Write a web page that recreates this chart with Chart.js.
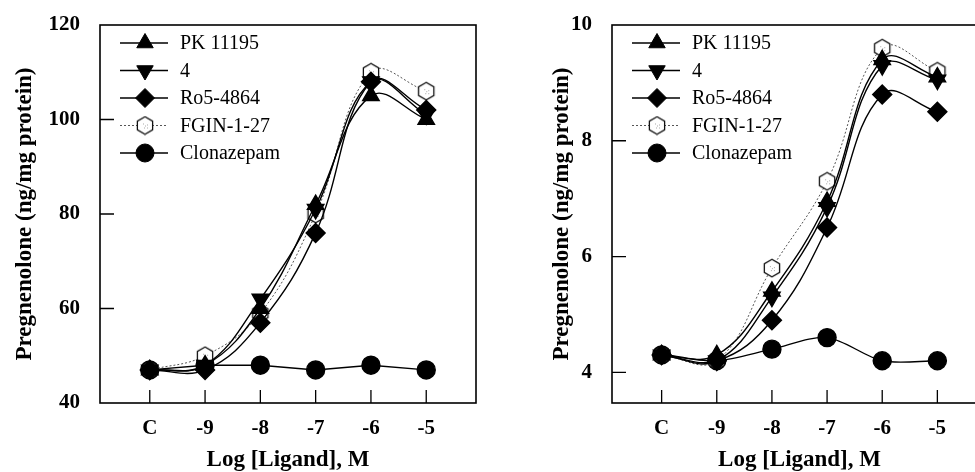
<!DOCTYPE html>
<html>
<head>
<meta charset="utf-8">
<script src="https://cdn.jsdelivr.net/npm/chart.js@4/dist/chart.umd.min.js"></script>
<style>
  html,body{margin:0;padding:0;background:#fff;overflow:hidden;width:975px;height:472px;}
  #wrap{position:relative;width:975px;height:472px;overflow:hidden;}
  canvas{position:absolute;top:0;}
  #cL{left:0;}
  #cR{left:490px;}
</style>
</head>
<body>
<div id="wrap">
  <canvas id="cL" width="490" height="472"></canvas>
  <canvas id="cR" width="510" height="472"></canvas>
</div>
<script>
// ---- data ----
const categories = ['C', '-9', '-8', '-7', '-6', '-5'];
const seriesNames = ['PK 11195', '4', 'Ro5-4864', 'FGIN-1-27', 'Clonazepam'];

const leftPK    = [47, 48, 60, 82, 105, 100];
const left4     = [47, 48, 62, 81, 108, 101];
const leftRo    = [47, 47, 57, 76, 108, 102];
const leftFGIN  = [47, 50, 59, 80, 110, 106];
const leftClon  = [47, 48, 48, 47, 48, 47];

const rightPK   = [4.3, 4.3, 5.4, 6.95, 9.4, 9.1];
const right4    = [4.3, 4.2, 5.3, 6.85, 9.3, 9.05];
const rightRo   = [4.3, 4.2, 4.9, 6.5, 8.8, 8.5];
const rightFGIN = [4.3, 4.2, 5.8, 7.3, 9.6, 9.2];
const rightClon = [4.3, 4.2, 4.4, 4.6, 4.2, 4.2];

const leftYTicks  = [40, 60, 80, 100, 120];
const rightYTicks = [4, 6, 8, 10];

const yTitle = 'Pregnenolone (ng/mg protein)';
const xTitle = 'Log [Ligand], M';

// ---- styling helpers ----
const SERIF = "'Liberation Serif', 'Times New Roman', serif";

function hexagonImage(size) {
  const c = document.createElement('canvas');
  c.width = size; c.height = size;
  const g = c.getContext('2d');
  const r = size / 2 - 1.2, cx = size / 2, cy = size / 2;
  g.beginPath();
  for (let k = 0; k < 6; k++) {
    const a = Math.PI / 2 + k * Math.PI / 3;
    const px = cx + r * Math.cos(a), py = cy - r * Math.sin(a);
    if (k === 0) g.moveTo(px, py); else g.lineTo(px, py);
  }
  g.closePath();
  g.fillStyle = '#fff';
  g.fill();
  g.lineWidth = 1.3;
  g.strokeStyle = '#111';
  g.stroke();
  g.fillStyle = '#aaa';
  [[-2,-2],[2,-1],[-1,2],[2,2],[0,0]].forEach(([dx,dy]) => g.fillRect(cx+dx, cy+dy, 1, 1));
  return c;
}
const hexImg = hexagonImage(20);

function toPts(arr) { return arr.map((v, i) => ({ x: i, y: v })); }

function makeDatasets(pk, four, ro, fgin, clon, clonTension) {
  const base = { borderColor: '#000', borderWidth: 1.4, pointBackgroundColor: '#000', pointBorderColor: '#000', clip: false, tension: 0.4 };
  return [
    Object.assign({}, base, { label: seriesNames[0], data: toPts(pk), pointStyle: 'triangle', pointRadius: 9.5, pointRotation: 0 }),
    Object.assign({}, base, { label: seriesNames[1], data: toPts(four), pointStyle: 'triangle', pointRadius: 9.5, pointRotation: 180 }),
    Object.assign({}, base, { label: seriesNames[2], data: toPts(ro), pointStyle: 'rectRot', pointRadius: 9.5 }),
    Object.assign({}, base, { label: seriesNames[3], data: toPts(fgin), pointStyle: hexImg, pointRadius: 10, borderColor: '#555', borderWidth: 1, borderDash: [2, 2] }),
    Object.assign({}, base, { label: seriesNames[4], data: toPts(clon), pointStyle: 'circle', pointRadius: 9, tension: clonTension })
  ];
}

// legend drawn inside the chart area, from dataset styles
const innerLegend = {
  id: 'innerLegend',
  afterDraw(chart) {
    const { ctx, chartArea } = chart;
    ctx.save();
    chart.data.datasets.forEach((ds, i) => {
      const y = chartArea.top + 18 + i * 27.5;
      const x0 = chartArea.left + 20, x1 = chartArea.left + 68, xm = chartArea.left + 45;
      ctx.beginPath();
      ctx.strokeStyle = ds.borderColor;
      ctx.lineWidth = ds.borderWidth;
      ctx.setLineDash(ds.borderDash || []);
      ctx.moveTo(x0, y); ctx.lineTo(x1, y);
      ctx.stroke();
      ctx.setLineDash([]);
      ctx.fillStyle = '#000';
      ctx.strokeStyle = '#000';
      ctx.lineWidth = 1;
      Chart.helpers.drawPoint(ctx, { pointStyle: ds.pointStyle, radius: ds.pointRadius, rotation: ds.pointRotation || 0, borderWidth: 1 }, xm, y);
      ctx.fillStyle = '#000';
      ctx.font = '20px ' + SERIF;
      ctx.textBaseline = 'middle';
      ctx.textAlign = 'left';
      ctx.fillText(ds.label, chartArea.left + 80, y + 1);
    });
    ctx.restore();
  }
};

// frame + inward tick marks
const frameTicks = {
  id: 'frameTicks',
  beforeDatasetsDraw(chart) {
    const { ctx, chartArea: a, scales } = chart;
    ctx.save();
    ctx.strokeStyle = '#000';
    ctx.lineWidth = 1.6;
    ctx.strokeRect(a.left, a.top, a.right - a.left, a.bottom - a.top);
    ctx.lineWidth = 1.3;
    ctx.beginPath();
    scales.x.ticks.forEach(t => {
      const px = scales.x.getPixelForValue(t.value);
      ctx.moveTo(px, a.bottom); ctx.lineTo(px, a.bottom - 13);
    });
    scales.y.ticks.forEach(t => {
      const py = scales.y.getPixelForValue(t.value);
      if (py > a.top + 2 && py < a.bottom - 2) {
        ctx.moveTo(a.left, py); ctx.lineTo(a.left + 14, py);
      }
    });
    ctx.stroke();
    ctx.restore();
  }
};

function makeChart(id, datasets, yMin, yMax, yTicks, yWidth, yTitlePad, rightPad) {
  return new Chart(document.getElementById(id), {
    type: 'line',
    data: { datasets },
    options: {
      responsive: false,
      animation: false,
      events: [],
      layout: { padding: { top: 25, right: rightPad, left: 0, bottom: 0 } },
      plugins: { legend: { display: false }, tooltip: { enabled: false } },
      scales: {
        x: {
          type: 'linear', min: -0.9, max: 5.9,
          grid: { display: false },
          border: { display: false },
          afterBuildTicks: s => { s.ticks = categories.map((c, i) => ({ value: i })); },
          afterFit: s => { s.height = 69; },
          ticks: {
            color: '#000', padding: 5, maxRotation: 0, autoSkip: false,
            font: { family: SERIF, size: 21, weight: 'bold' },
            callback: v => categories[v]
          },
          title: {
            display: true, text: xTitle, color: '#000',
            font: { family: SERIF, size: 23, weight: 'bold', lineHeight: 1 },
            padding: { top: 0, bottom: 0 }
          }
        },
        y: {
          type: 'linear', min: yMin, max: yMax,
          grid: { display: false },
          border: { display: false },
          afterBuildTicks: s => { s.ticks = yTicks.map(v => ({ value: v })); },
          afterFit: s => { s.width = yWidth; },
          ticks: {
            color: '#000', padding: 12,
            font: { family: SERIF, size: 21, weight: 'bold' }
          },
          title: {
            display: true, text: yTitle, color: '#000',
            font: { family: SERIF, size: 23, weight: 'bold', lineHeight: 1 },
            padding: { top: yTitlePad, bottom: 0 }
          }
        }
      }
    },
    plugins: [frameTicks, innerLegend]
  });
}

makeChart('cL', makeDatasets(leftPK, left4, leftRo, leftFGIN, leftClon, 0), 40, 120, leftYTicks, 100, 13.5, 14);
makeChart('cR', makeDatasets(rightPK, right4, rightRo, rightFGIN, rightClon, 0.3), 3.47, 10, rightYTicks, 122, 60.5, 13);
</script>
</body>
</html>
